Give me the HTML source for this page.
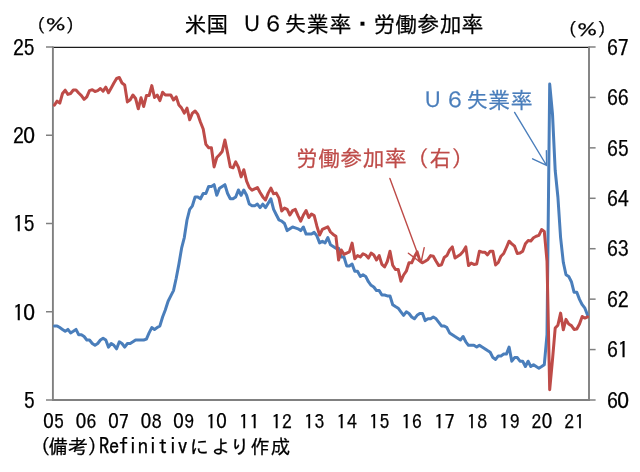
<!DOCTYPE html>
<html lang="ja"><head><meta charset="utf-8"><title>米国 U6失業率・労働参加率</title>
<style>html,body{margin:0;padding:0;background:#fff}body{width:640px;height:472px;overflow:hidden}svg{display:block}text{font-family:"IPAGothic","Liberation Sans","Noto Sans CJK JP",sans-serif;fill:#000;stroke:#000;stroke-width:.25px}.z{font-family:"Noto Sans CJK JP","Liberation Sans",sans-serif}</style>
</head><body>
<svg width="640" height="472" viewBox="0 0 640 472">
<rect width="640" height="472" fill="#fff"/>
<text text-anchor="middle" y="32.3" font-size="21.8" x="195.6 217.5 234.8 252.0 273.1 295.4 317.8 340.4 362.2 384.4 406.2 428.3 450.4 472.5">米国　Ｕ６失業率<tspan font-size="27" dy="1.7">・</tspan><tspan dy="-1.7">労</tspan>働参加率</text>
<g>
<text font-size="18" y="31.6" x="27.4">（</text>
<text font-size="18.67" text-anchor="middle" style="stroke-width:.32px" transform="translate(55.55 24.50) scale(1.116 0.817)" x="0" y="7.3">％</text>
<text font-size="18" y="31.6" x="65.8">）</text>
</g>
<g>
<text font-size="18" y="36.0" x="559.1">（</text>
<text font-size="18.67" text-anchor="middle" style="stroke-width:.32px" transform="translate(587.25 28.90) scale(1.116 0.817)" x="0" y="7.3">％</text>
<text font-size="18" y="36.0" x="597.5">）</text>
</g>
<line x1="53" y1="47.3" x2="589" y2="47.3" stroke="#1c1c1c" stroke-width="1.3"/>
<g stroke="#808080" stroke-width="1.9" fill="none">
<line x1="52.9" y1="46.4" x2="52.9" y2="401"/>
<line x1="589" y1="46.4" x2="589" y2="401"/>
<line x1="52" y1="400" x2="590" y2="400"/>
</g>
<g stroke="#808080" stroke-width="1.5" fill="none">
<line x1="46" y1="47.00" x2="53" y2="47.00"/>
<line x1="46" y1="135.25" x2="53" y2="135.25"/>
<line x1="46" y1="223.50" x2="53" y2="223.50"/>
<line x1="46" y1="311.75" x2="53" y2="311.75"/>
<line x1="46" y1="400.00" x2="53" y2="400.00"/>
<line x1="589" y1="47.00" x2="595.6" y2="47.00"/>
<line x1="589" y1="97.43" x2="595.6" y2="97.43"/>
<line x1="589" y1="147.86" x2="595.6" y2="147.86"/>
<line x1="589" y1="198.29" x2="595.6" y2="198.29"/>
<line x1="589" y1="248.71" x2="595.6" y2="248.71"/>
<line x1="589" y1="299.14" x2="595.6" y2="299.14"/>
<line x1="589" y1="349.57" x2="595.6" y2="349.57"/>
<line x1="589" y1="400.00" x2="595.6" y2="400.00"/>
</g>
<g font-size="22" letter-spacing="-0.33" text-anchor="end">
<text x="34.3" y="55.9">25</text>
<text x="34.9" y="144.2">2<tspan class="z" dx="-0.60" dy="-0.80">0</tspan></text>
<text x="34.3" y="232.4">15</text>
<text x="34.9" y="320.6">1<tspan class="z" dx="-0.60" dy="-0.80">0</tspan></text>
<text x="34.3" y="408.9">5</text>
</g>
<g font-size="22" letter-spacing="-0.33" text-anchor="start">
<text x="607" y="55.6">67</text>
<text x="607" y="106.0">66</text>
<text x="607" y="156.5">65</text>
<text x="607" y="206.9">64</text>
<text x="607" y="257.3">63</text>
<text x="607" y="307.7">62</text>
<text x="607" y="358.2">61</text>
<text x="607" y="408.6">6<tspan class="z" dx="-0.60" dy="-0.80">0</tspan></text>
</g>
<g font-size="19.7" letter-spacing="0.65" text-anchor="middle">
<text x="54.3" y="429.1"><tspan class="z" dx="-0.54" dy="-0.70">0</tspan><tspan dx="-0.54" dy="0.70">5</tspan></text>
<text x="86.8" y="429.1"><tspan class="z" dx="-0.54" dy="-0.70">0</tspan><tspan dx="-0.54" dy="0.70">6</tspan></text>
<text x="119.3" y="429.1"><tspan class="z" dx="-0.54" dy="-0.70">0</tspan><tspan dx="-0.54" dy="0.70">7</tspan></text>
<text x="151.9" y="429.1"><tspan class="z" dx="-0.54" dy="-0.70">0</tspan><tspan dx="-0.54" dy="0.70">8</tspan></text>
<text x="184.4" y="429.1"><tspan class="z" dx="-0.54" dy="-0.70">0</tspan><tspan dx="-0.54" dy="0.70">9</tspan></text>
<text x="216.9" y="429.1">1<tspan class="z" dx="-0.54" dy="-0.70">0</tspan></text>
<text x="249.5" y="429.1">11</text>
<text x="282.0" y="429.1">12</text>
<text x="314.5" y="429.1">13</text>
<text x="347.1" y="429.1">14</text>
<text x="379.6" y="429.1">15</text>
<text x="412.1" y="429.1">16</text>
<text x="444.7" y="429.1">17</text>
<text x="477.2" y="429.1">18</text>
<text x="509.7" y="429.1">19</text>
<text x="542.3" y="429.1">2<tspan class="z" dx="-0.54" dy="-0.70">0</tspan></text>
<text x="574.8" y="429.1">21</text>
</g>
<text text-anchor="middle" y="454" font-size="19.6" x="45.5 58.4 78.0 92.5 104.1 114.2 123.6 132.8 142.8 152.8 162.8 172.8 182.5 199.2 221.0 239.9 260.0 280.5">(備考)<tspan font-size="21.4">Refinitiv</tspan>により作成</text>
<polyline fill="none" stroke="#4a7ebb" stroke-width="3" stroke-linejoin="round" stroke-linecap="round" points="54.4,325.9 57.1,325.9 59.8,327.6 62.5,329.4 65.2,331.2 67.9,329.4 70.6,332.9 73.3,331.2 76.0,329.4 78.7,334.7 81.4,334.7 84.1,336.5 86.8,340.0 89.5,340.0 92.3,343.5 95.0,345.3 97.7,343.5 100.4,340.0 103.1,338.2 105.8,340.0 108.5,347.1 111.2,343.5 113.9,345.3 116.6,348.8 119.3,341.8 122.0,343.5 124.7,347.1 127.4,343.5 130.2,343.5 132.9,341.8 135.6,340.0 138.3,340.0 141.0,340.0 143.7,340.0 146.4,339.1 149.1,332.9 151.8,327.6 154.5,329.4 157.2,327.6 159.9,325.9 162.6,317.0 165.3,310.0 168.1,301.2 170.8,295.9 173.5,290.6 176.2,278.2 178.9,264.1 181.6,248.2 184.3,237.6 187.0,220.0 189.7,209.4 192.4,205.8 195.1,197.0 197.8,197.0 200.5,198.8 203.2,193.5 205.9,193.5 208.7,186.4 211.4,186.4 214.1,184.7 216.8,195.3 219.5,188.2 222.2,186.4 224.9,184.7 227.6,193.5 230.3,198.8 233.0,198.8 235.7,197.0 238.4,190.0 241.1,195.3 243.8,190.0 246.6,195.3 249.3,204.1 252.0,205.8 254.7,205.8 257.4,204.1 260.1,207.6 262.8,204.1 265.5,207.6 268.2,203.2 270.9,198.8 273.6,209.4 276.3,214.7 279.0,220.0 281.7,221.2 284.5,223.5 287.2,230.6 289.9,228.8 292.6,227.0 295.3,227.9 298.0,228.8 300.7,230.6 303.4,227.0 306.1,234.1 308.8,234.1 311.5,234.1 314.2,232.3 316.9,235.9 319.6,242.9 322.4,241.2 325.1,242.9 327.8,237.6 330.5,244.7 333.2,246.4 335.9,248.2 338.6,248.2 341.3,257.0 344.0,257.0 346.7,265.9 349.4,265.9 352.1,264.1 354.8,271.2 357.5,271.2 360.3,276.4 363.0,274.7 365.7,276.4 368.4,281.7 371.1,285.3 373.8,287.0 376.5,290.6 379.2,290.6 381.9,295.0 384.6,295.0 387.3,295.9 390.0,295.9 392.7,304.7 395.4,306.5 398.2,308.2 400.9,311.8 403.6,315.3 406.3,311.8 409.0,313.5 411.7,317.0 414.4,318.8 417.1,315.3 419.8,313.5 422.5,313.5 425.2,320.6 427.9,318.8 430.6,318.8 433.3,317.0 436.1,318.8 438.8,322.3 441.5,325.9 444.2,325.9 446.9,327.6 449.6,332.9 452.3,334.7 455.0,336.5 457.7,338.2 460.4,340.0 463.1,336.5 465.8,341.8 468.5,345.3 471.2,345.3 473.9,345.3 476.7,347.1 479.4,345.3 482.1,347.1 484.8,348.8 487.5,350.6 490.2,352.3 492.9,357.6 495.6,359.4 498.3,355.9 501.0,355.9 503.7,354.1 506.4,354.1 509.1,347.1 511.8,361.2 514.6,357.6 517.3,357.6 520.0,361.2 522.7,361.2 525.4,366.5 528.1,361.2 530.8,366.5 533.5,364.7 536.2,366.5 538.9,368.2 541.6,366.5 544.3,364.7 547.0,334.7 549.7,84.1 552.5,114.1 555.2,170.5 557.9,197.0 560.6,237.6 563.3,262.3 566.0,274.7 568.7,276.4 571.4,281.7 574.1,292.3 576.8,292.3 579.5,299.4 582.2,304.7 584.9,308.2 587.6,315.3"/>
<polyline fill="none" stroke="#be4b48" stroke-width="3" stroke-linejoin="round" stroke-linecap="round" points="54.4,105.2 57.1,101.2 59.8,103.1 62.5,93.5 65.2,90.2 67.9,94.4 70.6,93.5 73.3,90.0 76.0,90.0 78.7,93.0 81.4,95.6 84.1,99.4 86.8,96.9 89.5,90.6 92.3,89.8 95.0,91.5 97.7,90.6 100.4,88.5 103.1,91.2 105.8,87.2 108.5,92.8 111.2,88.0 113.9,83.0 116.6,78.5 119.3,77.5 122.0,83.0 124.7,85.0 127.4,101.9 130.2,99.8 132.9,95.0 135.6,98.5 138.3,108.8 141.0,97.8 143.7,106.5 146.4,95.6 149.1,95.6 151.8,85.6 154.5,97.5 157.2,95.0 159.9,100.6 162.6,92.2 165.3,95.0 168.1,95.0 170.8,95.0 173.5,100.0 176.2,96.9 178.9,105.0 181.6,108.1 184.3,113.1 187.0,108.1 189.7,119.8 192.4,113.1 195.1,111.0 197.8,114.4 200.5,122.2 203.2,129.0 205.9,144.4 208.7,147.8 211.4,147.8 214.1,166.9 216.8,157.5 219.5,154.8 222.2,151.5 224.9,140.0 227.6,153.1 230.3,166.9 233.0,167.8 235.7,161.9 238.4,167.2 241.1,176.9 243.8,169.7 246.6,181.2 249.3,187.5 252.0,190.2 254.7,188.8 257.4,187.5 260.1,192.5 262.8,196.9 265.5,200.0 268.2,193.1 270.9,188.1 273.6,193.8 276.3,193.1 279.0,198.1 281.7,211.0 284.5,208.1 287.2,209.4 289.9,215.0 292.6,210.6 295.3,209.4 298.0,215.6 300.7,221.2 303.4,215.0 306.1,210.6 308.8,217.5 311.5,214.0 314.2,215.6 316.9,226.2 319.6,235.0 322.4,229.4 325.1,228.1 327.8,226.9 330.5,232.0 333.2,234.4 335.9,236.2 338.6,260.0 341.3,250.0 344.0,254.4 346.7,253.1 349.4,251.9 352.1,243.1 354.8,258.8 357.5,255.6 360.3,256.9 363.0,253.8 365.7,255.0 368.4,258.1 371.1,253.1 373.8,255.0 376.5,260.0 379.2,255.6 381.9,264.4 384.6,266.9 387.3,261.5 390.0,251.2 392.7,265.3 395.4,269.4 398.2,269.4 400.9,281.2 403.6,275.0 406.3,271.2 409.0,262.8 411.7,262.8 414.4,256.9 417.1,251.9 419.8,260.6 422.5,262.8 425.2,261.2 427.9,259.4 430.6,255.6 433.3,256.2 436.1,261.2 438.8,265.6 441.5,264.8 444.2,257.5 446.9,255.6 449.6,250.0 452.3,246.9 455.0,258.0 457.7,256.2 460.4,254.4 463.1,251.5 465.8,246.9 468.5,265.6 471.2,263.1 473.9,264.4 476.7,264.0 479.4,251.2 482.1,252.2 484.8,252.2 487.5,254.8 490.2,251.2 492.9,251.2 495.6,265.0 498.3,262.5 501.0,256.2 503.7,253.5 506.4,247.5 509.1,241.2 511.8,243.8 514.6,246.2 517.3,253.5 520.0,253.1 522.7,251.2 525.4,243.8 528.1,240.6 530.8,241.0 533.5,237.7 536.2,236.2 538.9,235.4 541.6,229.6 544.3,231.5 547.0,261.0 549.7,389.7 552.5,359.7 555.2,328.1 557.9,325.2 560.6,313.1 563.3,329.8 566.0,319.4 568.7,324.0 571.4,325.6 574.1,329.4 576.8,329.0 579.5,324.0 582.2,316.5 584.9,318.1 587.6,316.9"/>
<text x="421.85" y="108" font-size="21.8" letter-spacing="0.4" style="fill:#4a7ebb;stroke:#4a7ebb">Ｕ６失業率</text>
<text x="296" y="165.75" font-size="21.8" letter-spacing="0.4" style="fill:#be4b48;stroke:#be4b48">労働参加率（右）</text>
<g stroke="#4a7ebb" stroke-width="1.4" fill="none" stroke-linecap="round"><path d="M514.6 112.4 L546.6 165.5 M532.6 158.8 L546.6 165.5 L546.4 150.6"/></g>
<g stroke="#be4b48" stroke-width="1.4" fill="none" stroke-linecap="round"><path d="M389.9 178.4 L421 262.7 M408.4 253.2 L421 262.7 L424.2 247.7"/></g>
</svg>
</body></html>
